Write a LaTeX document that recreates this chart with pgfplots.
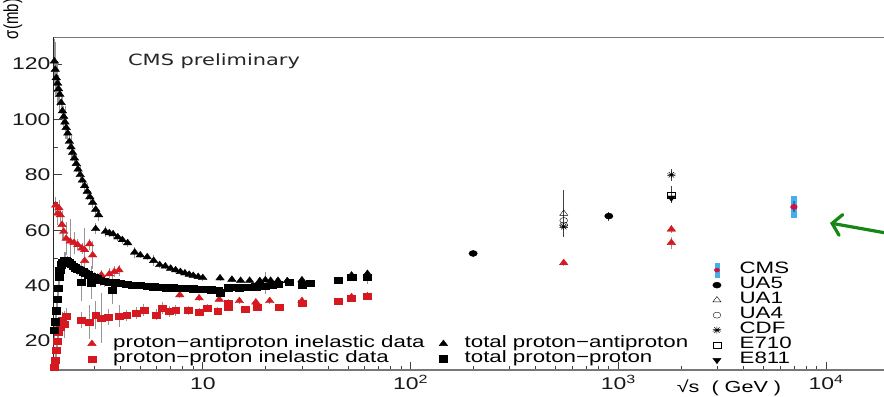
\documentclass[border=0pt]{standalone}
\usepackage{fontspec}
\setmainfont{Liberation Sans}[FakeStretch=1.35]
\newfontfamily\plainsans{Liberation Sans}
\newfontfamily\labelsans{DejaVu Sans}[FakeStretch=1.35]
\usepackage{pgfplots}
\pgfplotsset{compat=1.18}
\usepackage{pgfplotstable}
\usetikzlibrary{arrows.meta}

\definecolor{datared}{RGB}{214,24,32}
\definecolor{errgray}{RGB}{150,150,150}
\definecolor{cmslight}{RGB}{70,175,235}
\definecolor{cmsdark}{RGB}{40,110,205}
\definecolor{cmsred}{RGB}{205,20,60}
\definecolor{arrowgreen}{RGB}{20,135,20}
\definecolor{axisgray}{RGB}{120,120,120}

% total proton-antiproton cross section (mb)
\pgfplotstableread{
x     y     e
1.93  121   8
1.95  118   10
1.97  115   6
2.00  113   8
2.02  111   5
2.05  109   6
2.08  106   4
2.11  103   5
2.14  101   4
2.17  99    6
2.20  97    4
2.24  95    3
2.28  92    3
2.32  90    4
2.36  88    3
2.41  86    3
2.46  84    3
2.51  82    2
2.57  80    3
2.63  78    2
2.70  76    2
2.78  74    3
2.86  72    2
2.95  70    2
3.05  67.5  2
3.15  65.5  2
3.05  60.5  2
3.40  59.5  2
3.55  59    1.5
3.70  58.6  1.5
3.90  57.5  1.5
4.10  56.5  1.5
4.35  55.4  1.5
4.70  52    2
5.00  51    1
5.40  50.3  1
5.80  49    2
6.20  47.5  1
6.60  47    1
7.00  46.2  1
7.40  45.6  1
7.80  45    1
8.20  44.5  1
8.60  44    1
9.00  43.6  1
9.50  43.2  1
10.0  42.8  1
12.1  42.7  1
13.8  42.2  1
15.2  41.8  1
16.8  41.8  1
18.8  41.7  1.5
20.0  42.0  3
21.2  41.8  1
23.0  41.8  1
25.5  41.7  1
30.0  42.0  1
52.0  43.7  1
62.0  44.3  1.5
}\pbartot

% total proton-proton cross section (mb)
\pgfplotstableread{
x     y     e
1.93  24    3
1.95  27    3
1.97  31    3
1.99  35    3
2.01  39    3
2.03  43    3
2.05  45.5  2
2.08  47.5  2
2.11  48.5  2
2.15  49    3
2.19  49.2  3
2.23  48.8  2
2.28  48.3  2
2.33  47.8  2
2.38  47    2
2.44  46.4  2
2.50  46    2
2.57  45.5  2
2.65  45    2
2.72  44.5  2
2.80  44    2
2.90  43.5  2
3.00  43    2
3.10  42.5  2
3.20  42    2
2.60  41.3  7
2.90  41.0  6
3.35  41.5  2
3.55  41.2  1.5
3.80  41    1.5
3.67  38.4  5
4.00  40.8  1
4.30  40.5  1
4.60  40.2  1
5.00  40.1  1
5.40  39.8  1
5.80  39.6  1
6.20  39.5  1
6.70  39.3  1
7.20  39.2  1
7.80  39.1  1
8.40  39    1
9.00  38.9  1
9.60  38.8  1
10.3  38.6  1
11.0  38.5  1
11.8  38.4  1
12.1  37.5  1
13.2  39.2  1
14.0  39.5  1
15.0  39.3  1
16.0  39.4  1
17.0  39.5  1
18.0  39.6  1
19.0  39.8  1
20.0  39.8  3
21.5  40.2  1
23.0  40.6  1
26.0  41.2  1
30.0  40.2  1
33.0  40.9  1
45.0  42    1
52.0  43.1  1
62.0  43.1  2.5
}\pptot

% inelastic proton-antiproton cross section (mb)
\pgfplotstableread{
x     y     e
1.96  69    3
2.00  66    4
2.03  68    3
2.06  65.5  3
2.10  62    5
2.14  59.5  3
2.20  57    6
2.30  56    8
2.40  55.5  4
2.50  54.7  2
2.62  53.5  2
2.70  52.9  8
2.85  55    2
2.95  51    5
2.70  49    2
3.25  43.8  2
3.55  44.2  2
3.75  45    2
3.95  45.6  2
7.75  36.6  1
9.60  35.5  1
12.0  35    1
15.0  34.5  1
18.0  34    1
21.0  34.5  1
30.0  34.5  1
52.0  35.9  1
62.0  36.2  1
546   48.2  1
1800  60.3  1.4
1800  55.5  2.2
}\pbarinel

% inelastic proton-proton cross section (mb)
\pgfplotstableread{
x     y     e
1.93  10.5  2
1.95  13    3
1.97  16.5  3
1.99  20    3
2.02  23    4
2.06  25    3
2.10  27.6  3
2.15  26    5
2.20  29    3
2.60  27.6  3
2.85  26.9  6
3.05  29.4  5
3.25  28.2  9
3.50  28.7  3
3.95  29    4
4.30  29.2  2
4.80  30.1  2
5.20  31.2  2
5.95  29.4  2
6.40  31.9  2
6.90  30.8  2
7.40  31    2
8.50  31    1.5
9.60  30.5  1.5
10.5  31.9  1.5
11.8  30.8  1.5
13.3  32.3  1.5
13.3  33.7  1.5
16.0  31.6  1
18.2  32.3  1
23.4  32.3  1
30.0  33.7  1
45.0  34.4  1
52.0  35.5  1
62.0  36.2  1
}\ppinel

\begin{document}
\begin{tikzpicture}
\begin{axis}[name=main,
  scale only axis, width=830pt, height=333pt,
  xmode=log, xmin=1.922, xmax=19000, ymin=9.53, ymax=129.75,
  axis x line*=bottom, axis y line*=left,
  x axis line style={axisgray, line width=1.1pt, -},
  y axis line style={black!85, line width=1pt, -},
  tick align=inside,
  major tick length=8pt, minor tick length=4pt,
  tick style={black!75, line width=0.7pt},
  xtick={10,100,1000,10000},
  xticklabels={10, 10\textsuperscript{2}, 10\textsuperscript{3}, 10\textsuperscript{4}},
  minor xtick={2,3,4,5,6,7,8,9,20,30,40,50,60,70,80,90,200,300,400,500,600,700,800,900,2000,3000,4000,5000,6000,7000,8000,9000},
  ytick={20,40,60,80,100,120},
  minor ytick={10,30,50,70,90,110},
  /pgf/number format/assume math mode=true,
  tick label style={font=\fontsize{17}{17}\selectfont, text=black!90},
  xticklabel style={anchor=base, yshift=-20pt},
  error bars/y dir=both, error bars/y explicit,
  error bars/error bar style={errgray, line width=0.7pt},
  error bars/error mark=none,
  legend columns=2,
  legend cell align=left,
  legend style={at={(rel axis cs:0.0367,0.108)}, anchor=north west,
    draw=none, fill=none, font=\fontsize{16.5}{16.5}\selectfont,
    row sep=0pt, column sep=0pt,
    nodes={inner sep=0.5pt, text height=10.5pt, text depth=3.5pt},
    /tikz/every odd column/.append style={column sep=16.5pt},
    /tikz/every even column/.append style={column sep=14pt}},
]
\addplot[only marks, mark=triangle*, datared, mark size=3.8pt,
  mark options={xscale=1.3}] table[x=x, y=y, y error=e]{\pbarinel};
\addlegendentry{proton−antiproton inelastic data}
\addplot[only marks, mark=triangle*, black, mark size=3.8pt,
  mark options={xscale=1.3}] table[x=x, y=y, y error=e]{\pbartot};
\addlegendentry{total proton−antiproton}
\addplot[only marks, mark=square*, datared, mark size=3pt,
  mark options={xscale=1.3}] table[x=x, y=y, y error=e]{\ppinel};
\addlegendentry{proton−proton inelastic data}
\addplot[only marks, mark=square*, black, mark size=3.2pt,
  mark options={xscale=1.3}] table[x=x, y=y, y error=e]{\pptot};
\addlegendentry{total proton−proton}
\end{axis}

% collider measurements at high energy, with their own key
\begin{axis}[
  scale only axis, width=830pt, height=333pt,
  xmode=log, xmin=1.922, xmax=19000, ymin=9.53, ymax=129.75,
  hide axis,
  error bars/y dir=both, error bars/y explicit,
  error bars/error bar style={black!75, line width=0.8pt},
  error bars/error mark=none,
  legend cell align=left,
  legend style={at={(rel axis cs:0.7898,0.329)}, anchor=north west,
    draw=none, fill=none, font=\fontsize{16.5}{16.5}\selectfont,
    row sep=0pt, column sep=0pt,
    nodes={inner sep=0.5pt, text height=10.5pt, text depth=3.5pt},
    /tikz/every odd column/.append style={column sep=18pt}},
]
\addlegendimage{legend image code/.code={
  \fill[cmslight] (0.3cm-1.8pt,-7pt) rectangle (0.3cm+1.8pt,7pt);
  \fill[cmsred] (0.3cm,0pt) ellipse (2.6pt and 2pt);}}
\addlegendentry{CMS}
% CMS 7 TeV inelastic cross section
\addplot[forget plot, only marks, mark=none,
  error bars/error bar style={cmslight, line width=5.5pt}]
  coordinates {(7000,68.4) +- (0,4.0)};
\addplot[forget plot, only marks, mark=*, cmsred, mark size=2.6pt,
  mark options={xscale=1.3},
  error bars/error bar style={cmsdark, line width=2.5pt}]
  coordinates {(7000,68.4) +- (0,2.0)};
% UA5
\addplot[only marks, mark=*, black, mark size=3pt,
  mark options={xscale=1.4}] coordinates {
  (200,51.6) +- (0,1.2)
  (900,65.1) +- (0,1.6)};
\addlegendentry{UA5}
% UA1
\addplot[only marks, mark=triangle, black, mark size=3.6pt,
  mark options={xscale=1.3}] coordinates {
  (546,66.0) +- (0,8.5)};
\addlegendentry{UA1}
% UA4
\addplot[only marks, mark=o, black, mark size=3pt,
  mark options={xscale=1.3}] coordinates {
  (546,63.5) +- (0,1.5)
  (546,61.9) +- (0,1.5)};
\addlegendentry{UA4}
% CDF
\addplot[only marks, mark=10-pointed star, black, mark size=3.4pt,
  mark options={xscale=1.3, line width=0.5pt}] coordinates {
  (546,61.3) +- (0,1.0)
  (1800,80.0) +- (0,2.2)};
\addlegendentry{CDF}
% E710
\addplot[only marks, mark=square, black, mark size=3pt,
  mark options={xscale=1.3}] coordinates {
  (1800,72.8) +- (0,3.1)};
\addlegendentry{E710}
% E811
\addplot[only marks, mark=triangle*, black, mark size=3.6pt,
  mark options={xscale=1.3, rotate=180}] coordinates {
  (1800,71.7) +- (0,2.0)};
\addlegendentry{E811}
\end{axis}

% frame top, titles and the pointer towards the CMS value
\draw[axisgray, line width=0.9pt] (main.north west) -- (main.north east);
\node[font=\labelsans\fontsize{15.5}{15.5}\selectfont, text=black!85]
  at ([shift={(160pt,309pt)}]main.south west) {CMS preliminary};
\node[font=\plainsans\fontsize{15}{15}\selectfont, xscale=1.35, rotate=90]
  at ([shift={(-41pt,351pt)}]main.south west) {σ(mb)};
\node[font=\fontsize{16}{16}\selectfont]
  at ([shift={(675pt,-18pt)}]main.south west) {√s \ ( GeV )};
\draw[arrowgreen, line width=3.2pt, line cap=round,
  -{Straight Barb[length=9pt, width=21pt, line cap=round]}]
  ([shift={(832pt,137pt)}]main.south west) -- ([shift={(776pt,147pt)}]main.south west);

\pgfresetboundingbox
\path[use as bounding box] ([shift={(-54pt,-27pt)}]main.south west)
  rectangle ([shift={(0pt,37pt)}]main.north east);
\end{tikzpicture}
\end{document}
